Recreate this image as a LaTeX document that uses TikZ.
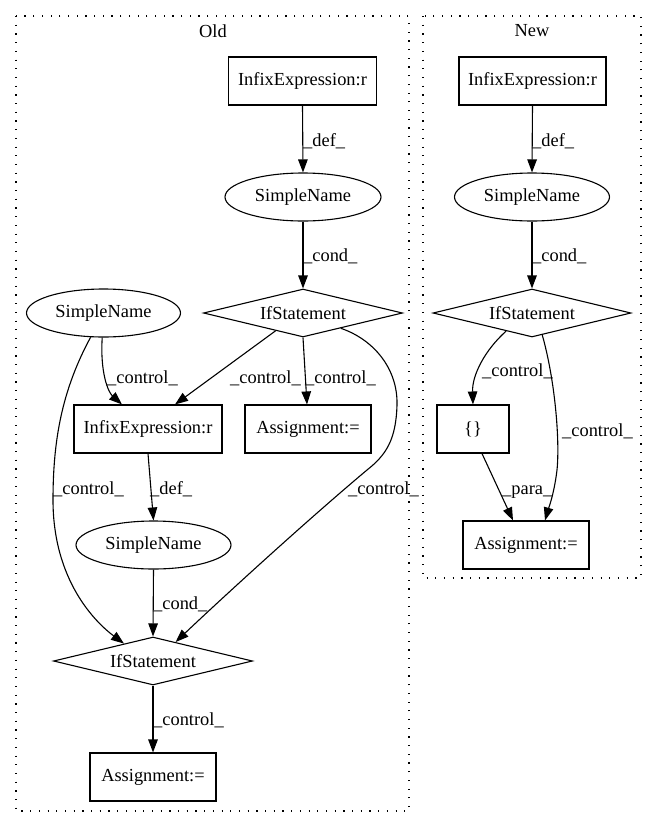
\documentclass[tikz,border=0pt]{standalone}
\usepackage{fontspec}
\setmainfont{Liberation Serif}
\usetikzlibrary{shapes.geometric,arrows.meta}
\begin{document}
\begin{tikzpicture}[x=1pt,y=-1pt,
 every node/.style={font=\fontsize{18.4}{22}\selectfont},
 box/.style={draw, rectangle, line width=1.1pt, inner sep=0pt, minimum height=48pt},
 ell/.style={draw, ellipse, line width=1.1pt, inner sep=0pt, minimum height=48pt},
 dia/.style={draw, diamond, aspect=4, line width=1.1pt, inner sep=0pt, minimum width=199pt, minimum height=48pt},
 conn/.style={line width=1.1pt, -{Triangle[length=13pt,width=9.5pt]}},
 lbl/.style={anchor=base west, inner sep=0pt},
 clus/.style={line width=1.2pt, dash pattern=on 1.2pt off 7.5pt}]
\useasboundingbox (0,0) rectangle (657,828);
% clusters
\draw[clus] (16,16) rectangle (409,811);
\draw[clus] (423,16) rectangle (641,578);
\node (oldt) at (213,31) {Old};
\node (newt) at (532,31) {New};
% Old nodes
\node[box, minimum width=148pt] (oi1) at (302.5,81) {InfixExpression:r};
\node[ell, minimum width=156pt] (os1) at (303,197) {SimpleName};
\node[dia] (oif1) at (303,313) {IfStatement};
\node[ell, minimum width=154pt] (osl) at (103.5,313) {SimpleName};
\node[box, minimum width=148pt] (oi2) at (148,429) {InfixExpression:r};
\node[box, minimum width=126pt] (oa1) at (308,429) {Assignment:=};
\node[ell, minimum width=155pt] (os2) at (153.5,545) {SimpleName};
\node[dia] (oif2) at (153,661) {IfStatement};
\node[box, minimum width=126pt] (oa2) at (153,777) {Assignment:=};
% New nodes
\node[box, minimum width=147pt] (ni) at (532.5,81) {InfixExpression:r};
\node[ell, minimum width=155pt] (ns) at (532,197) {SimpleName};
\node[dia, minimum width=198pt] (nif) at (532,313) {IfStatement};
\node[box, minimum width=72pt] (nb) at (473,429) {\{\}};
\node[box, minimum width=126pt] (na) at (526,545) {Assignment:=};
% Old edges
\draw[conn] (oi1.south) -- (os1.north);
\draw[conn] (os1.south) -- (oif1.north);
\draw[conn] (osl.-93) .. controls (100,372) and (108,392) .. ([xshift=-26pt]oi2.north);
\draw[conn] (oif1.213) -- ([xshift=27pt]oi2.north);
\draw[conn] (oif1.south) -- ([xshift=-1pt]oa1.north);
\draw[conn] (oif1.-22) .. controls (375,340) and (398,370) .. (397,405)
  .. controls (396,440) and (386,455) .. (367,470)
  .. controls (305,522) and (220,600) .. (oif2.40);
\draw[conn] (osl.242) .. controls (62,390) and (53,440) .. (53,500)
  .. controls (53,580) and (95,622) .. (oif2.149);
\draw[conn] (oi2.south) -- (os2.north);
\draw[conn] (os2.south) -- (oif2.north);
\draw[conn] (oif2.south) -- (oa2.north);
% New edges
\draw[conn] (ni.south) -- (ns.north);
\draw[conn] (ns.south) -- (nif.north);
\draw[conn] (nif.215) .. controls (485,350) and (472,375) .. (nb.north);
\draw[conn] (nif.-65) .. controls (555,380) and (560,440) .. (557,470)
  .. controls (554,495) and (548,510) .. ([xshift=19pt]na.north);
\draw[conn] ([xshift=9pt]nb.south) -- ([xshift=-13pt]na.north);
% labels
\node[lbl] (l1) at (303,146) {\_def\_};
\node[lbl] (l2) at (303,261) {\_cond\_};
\node[lbl] (l3) at (107,383) {\_control\_};
\node[lbl] (l4) at (230,383) {\_control\_};
\node[lbl] (l5) at (305,383) {\_control\_};
\node[lbl] (l6) at (348,494) {\_control\_};
\node[lbl] (l7) at (53,494) {\_control\_};
\node[lbl] (l8) at (150,494) {\_def\_};
\node[lbl] (l9) at (153,609) {\_cond\_};
\node[lbl] (l10) at (153,725) {\_control\_};
\node[lbl] (l11) at (532,146) {\_def\_};
\node[lbl] (l12) at (532,261) {\_cond\_};
\node[lbl] (l13) at (482,376) {\_control\_};
\node[lbl] (l14) at (562,436) {\_control\_};
\node[lbl] (l15) at (502,494) {\_para\_};
\end{tikzpicture}
\end{document}
